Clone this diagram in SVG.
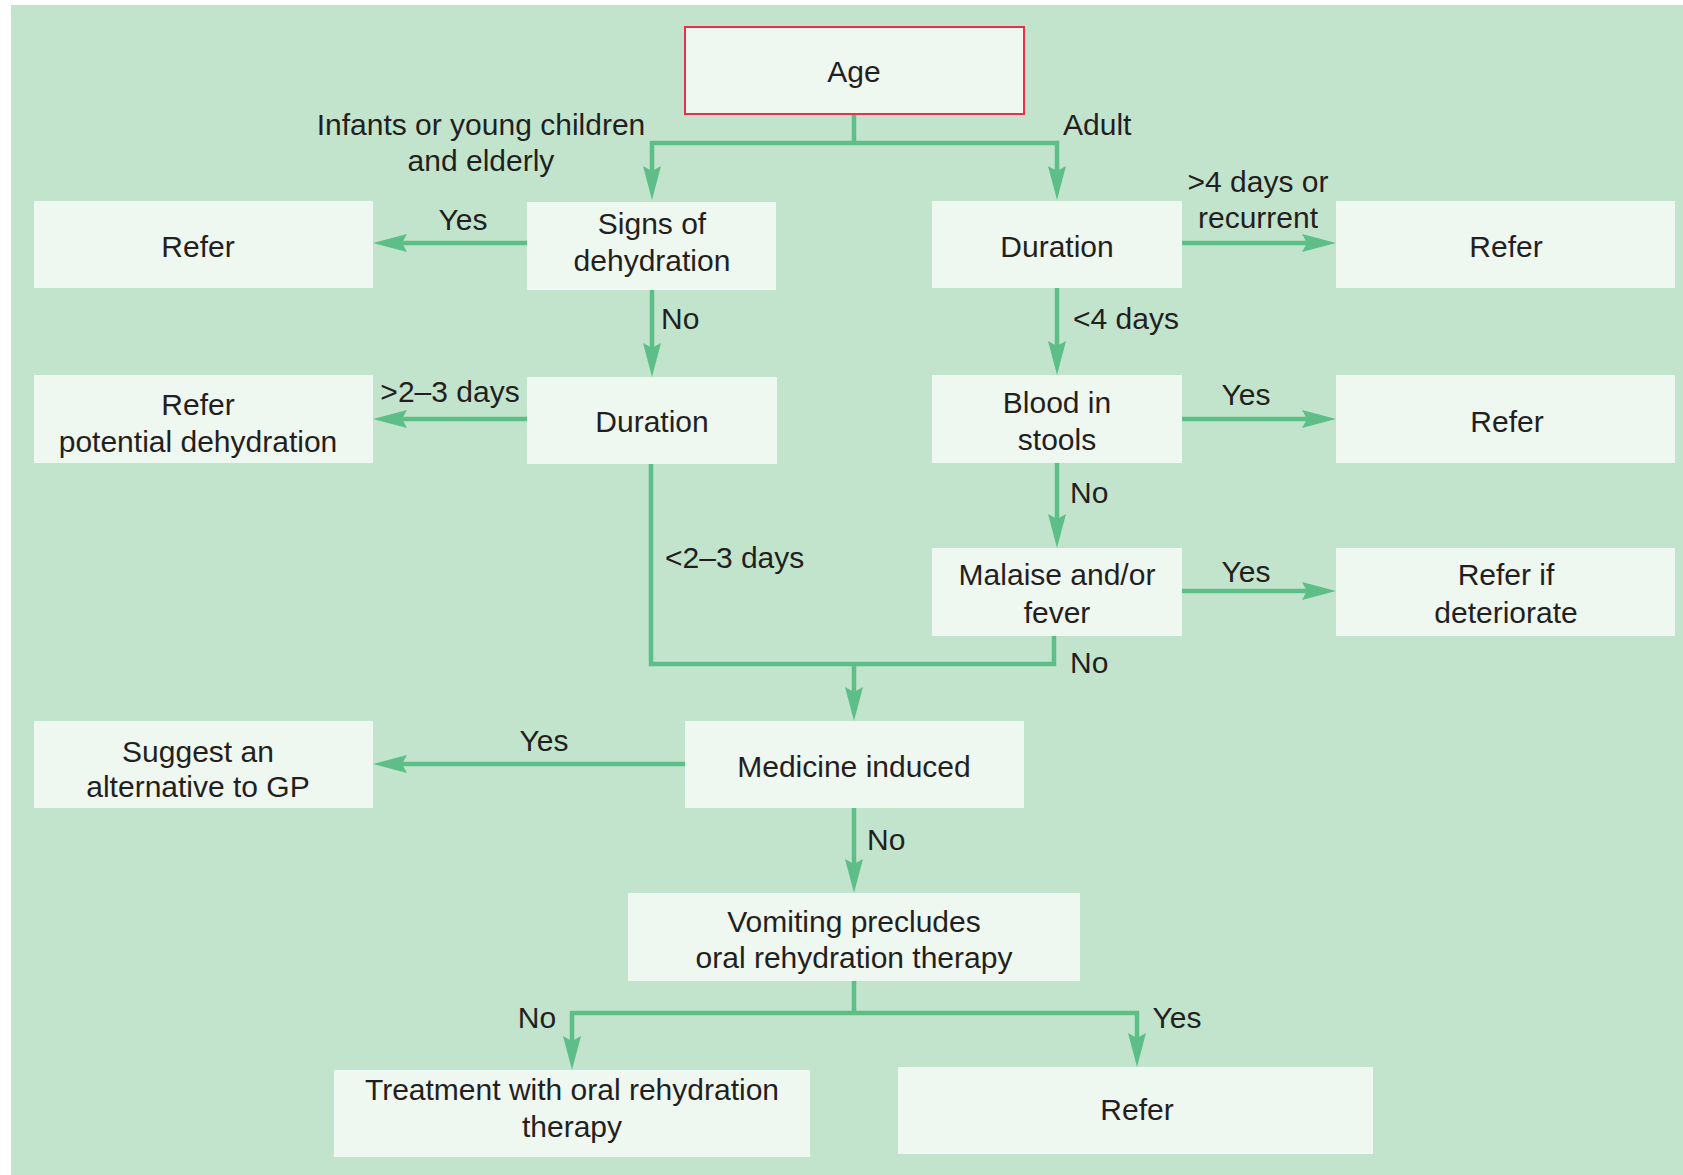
<svg xmlns="http://www.w3.org/2000/svg" width="1683" height="1175" viewBox="0 0 1683 1175">
<defs>
<style>
.box{fill:#eff7f1;}
.age{fill:#eff7f1;stroke:#e8304a;stroke-width:2;}
.t{font-family:"Liberation Sans",Arial,sans-serif;font-size:30px;fill:#231f20;text-anchor:middle;}
.s{text-anchor:start;}
.c{fill:none;stroke:#5dbe88;stroke-width:4.5;stroke-linejoin:miter;}
.a{marker-end:url(#ah);}
</style>
<marker id="ah" markerUnits="userSpaceOnUse" viewBox="0 0 34 18" refX="5" refY="9" markerWidth="34" markerHeight="18" orient="auto">
<path d="M0,0 L34,9 L0,18 L5,9 Z" fill="#5dbe88"/>
</marker>
</defs>
<rect width="1683" height="1175" fill="#ffffff"/>
<rect x="11" y="5" width="1672" height="1170" fill="#c2e4cd"/>

<g id="connectors">
<path class="c" d="M854,114 V143"/>
<path class="c a" d="M854,143 H652 V171"/>
<path class="c a" d="M854,143 H1057 V171"/>
<path class="c a" d="M527,243 H402"/>
<path class="c a" d="M1182,243 H1307"/>
<path class="c a" d="M652,290 V348"/>
<path class="c a" d="M527,419 H402"/>
<path class="c a" d="M1057,288 V346"/>
<path class="c a" d="M1182,419 H1307"/>
<path class="c a" d="M1057,463 V519"/>
<path class="c a" d="M1182,591 H1307"/>
<path class="c" d="M651,464 V664 H1054 V636"/>
<path class="c a" d="M854,664 V692"/>
<path class="c a" d="M685,764 H402"/>
<path class="c a" d="M854,808 V864"/>
<path class="c" d="M854,981 V1013"/>
<path class="c a" d="M854,1013 H572 V1041"/>
<path class="c a" d="M854,1013 H1137 V1038"/>
</g>

<g id="labels">
<text class="t" x="481" y="135">Infants or young children</text>
<text class="t" x="481" y="171">and elderly</text>
<text class="t s" x="1063" y="135">Adult</text>
<text class="t" x="463" y="230">Yes</text>
<text class="t" x="1258" y="192">&gt;4 days or</text>
<text class="t" x="1258" y="228">recurrent</text>
<text class="t s" x="661" y="329">No</text>
<text class="t s" x="1073" y="329">&lt;4 days</text>
<text class="t" x="450" y="402">&gt;2–3 days</text>
<text class="t" x="1246" y="405">Yes</text>
<text class="t s" x="1070" y="503">No</text>
<text class="t" x="1246" y="582">Yes</text>
<text class="t s" x="665" y="568">&lt;2–3 days</text>
<text class="t s" x="1070" y="673">No</text>
<text class="t" x="544" y="751">Yes</text>
<text class="t s" x="867" y="850">No</text>
<text class="t" x="537" y="1028">No</text>
<text class="t" x="1177" y="1028">Yes</text>
</g>

<g id="age"><rect class="age" x="685" y="27" width="339" height="87"/><text class="t" x="854" y="82">Age</text></g>
<g id="refer1"><rect class="box" x="34" y="201" width="339" height="87"/><text class="t" x="198" y="257">Refer</text></g>
<g id="signs"><rect class="box" x="527" y="202" width="249" height="88"/><text class="t" x="652" y="234">Signs of</text><text class="t" x="652" y="271">dehydration</text></g>
<g id="duration-adult"><rect class="box" x="932" y="201" width="250" height="87"/><text class="t" x="1057" y="257">Duration</text></g>
<g id="refer2"><rect class="box" x="1336" y="201" width="339" height="87"/><text class="t" x="1506" y="257">Refer</text></g>
<g id="refer-potential"><rect class="box" x="34" y="375" width="339" height="88"/><text class="t" x="198" y="415">Refer</text><text class="t" x="198" y="452">potential dehydration</text></g>
<g id="duration-child"><rect class="box" x="527" y="377" width="250" height="87"/><text class="t" x="652" y="432">Duration</text></g>
<g id="blood"><rect class="box" x="932" y="375" width="250" height="88"/><text class="t" x="1057" y="413">Blood in</text><text class="t" x="1057" y="450">stools</text></g>
<g id="refer3"><rect class="box" x="1336" y="375" width="339" height="88"/><text class="t" x="1507" y="432">Refer</text></g>
<g id="malaise"><rect class="box" x="932" y="548" width="250" height="88"/><text class="t" x="1057" y="585">Malaise and/or</text><text class="t" x="1057" y="623">fever</text></g>
<g id="refer-if"><rect class="box" x="1336" y="548" width="339" height="88"/><text class="t" x="1506" y="585">Refer if</text><text class="t" x="1506" y="623">deteriorate</text></g>
<g id="suggest"><rect class="box" x="34" y="721" width="339" height="87"/><text class="t" x="198" y="762">Suggest an</text><text class="t" x="198" y="797">alternative to GP</text></g>
<g id="medicine"><rect class="box" x="685" y="721" width="339" height="87"/><text class="t" x="854" y="777">Medicine induced</text></g>
<g id="vomiting"><rect class="box" x="628" y="893" width="452" height="88"/><text class="t" x="854" y="932">Vomiting precludes</text><text class="t" x="854" y="968">oral rehydration therapy</text></g>
<g id="treatment"><rect class="box" x="334" y="1070" width="476" height="87"/><text class="t" x="572" y="1100">Treatment with oral rehydration</text><text class="t" x="572" y="1137">therapy</text></g>
<g id="refer4"><rect class="box" x="898" y="1067" width="475" height="87"/><text class="t" x="1137" y="1120">Refer</text></g>
</svg>
